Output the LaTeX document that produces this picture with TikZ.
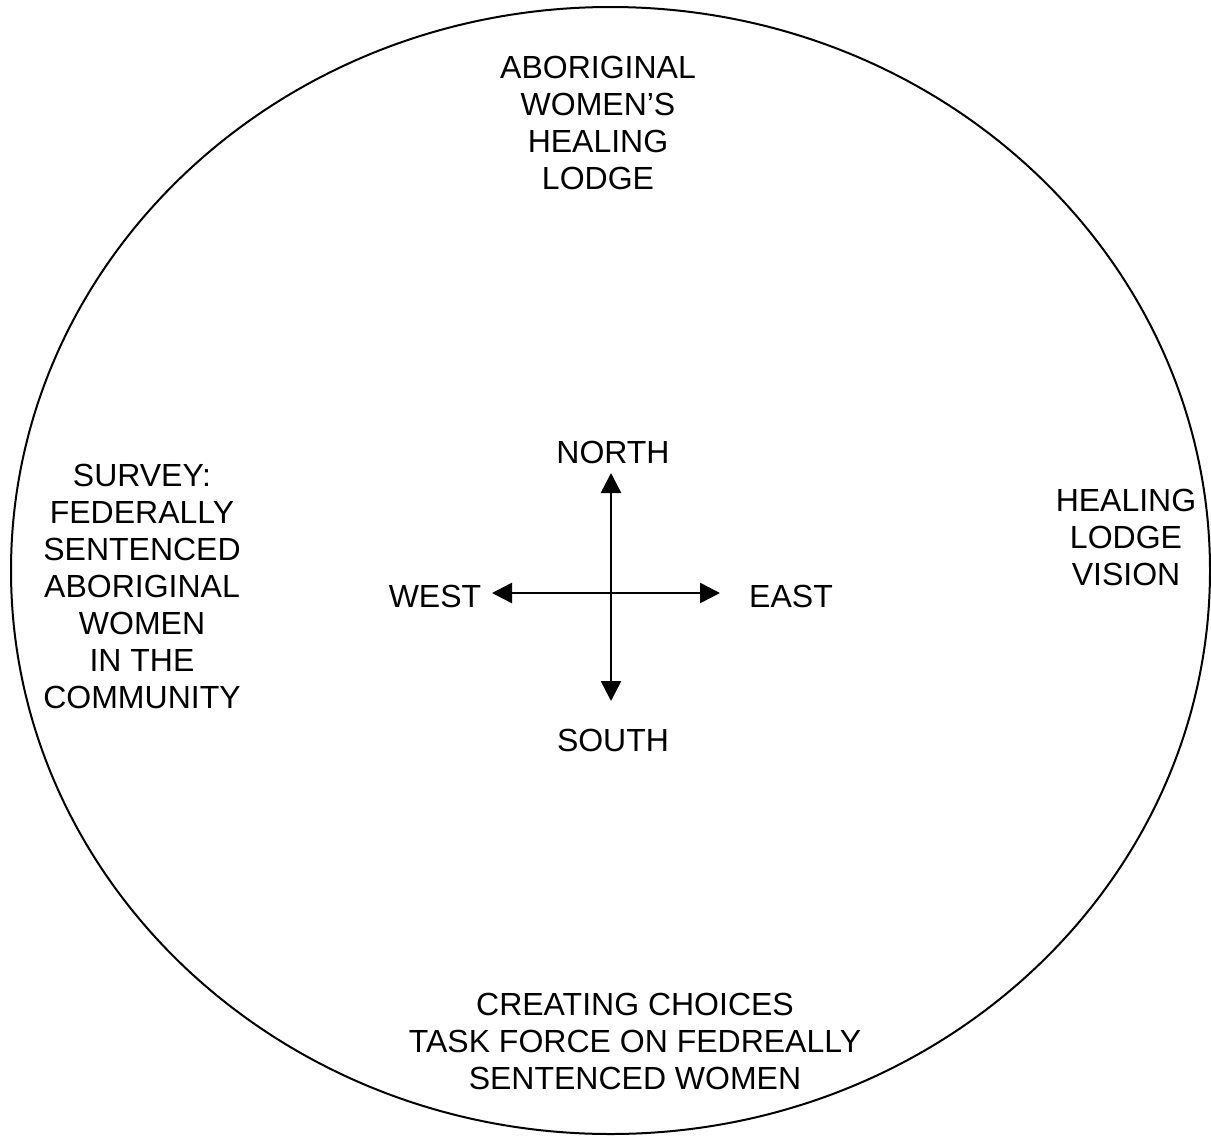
\documentclass[tikz,border=0pt]{standalone}
\usepackage{fontspec}
\setmainfont{Liberation Sans}
\usetikzlibrary{arrows.meta}
\tikzset{
    >={Triangle[length=20pt,width=20pt]}
}

\begin{document}
\begin{tikzpicture}[
  x=1pt, y=-1pt,
  label/.style={align=center, inner sep=0pt, font=\fontsize{32}{37}\selectfont},
  arrowstyle/.style={<->, line width=2.6pt},
  ring/.style={line width=2pt}
]
  \useasboundingbox (0,0) rectangle (1211,1136);

  % The circle
  \draw[ring] (610.5,570.5) ellipse [x radius=599.5pt, y radius=563.5pt];

  % Four quarters
  \node[label] (lodge)  at (598,123)  {ABORIGINAL\\WOMEN'S\\HEALING\\LODGE};
  \node[label] (vision) at (1126,537) {HEALING\\LODGE\\VISION};
  \node[label] (choices) at (635,1041) {CREATING CHOICES\\TASK FORCE ON FEDREALLY\\SENTENCED WOMEN};
  \node[label] (survey) at (142,586)  {SURVEY:\\FEDERALLY\\SENTENCED\\ABORIGINAL\\WOMEN\\IN THE\\COMMUNITY};

  % Compass
  \coordinate (n) at (611,473);
  \coordinate (s) at (611,701);
  \coordinate (w) at (492,593);
  \coordinate (e) at (720,593);
  \draw[arrowstyle] (n) -- (s);
  \draw[arrowstyle] (w) -- (e);

  \node[label] (north) at (613,452) {NORTH};
  \node[label] (south) at (613,740) {SOUTH};
  \node[label] (west)  at (435,596) {WEST};
  \node[label] (east)  at (791,596) {EAST};
\end{tikzpicture}
\end{document}
